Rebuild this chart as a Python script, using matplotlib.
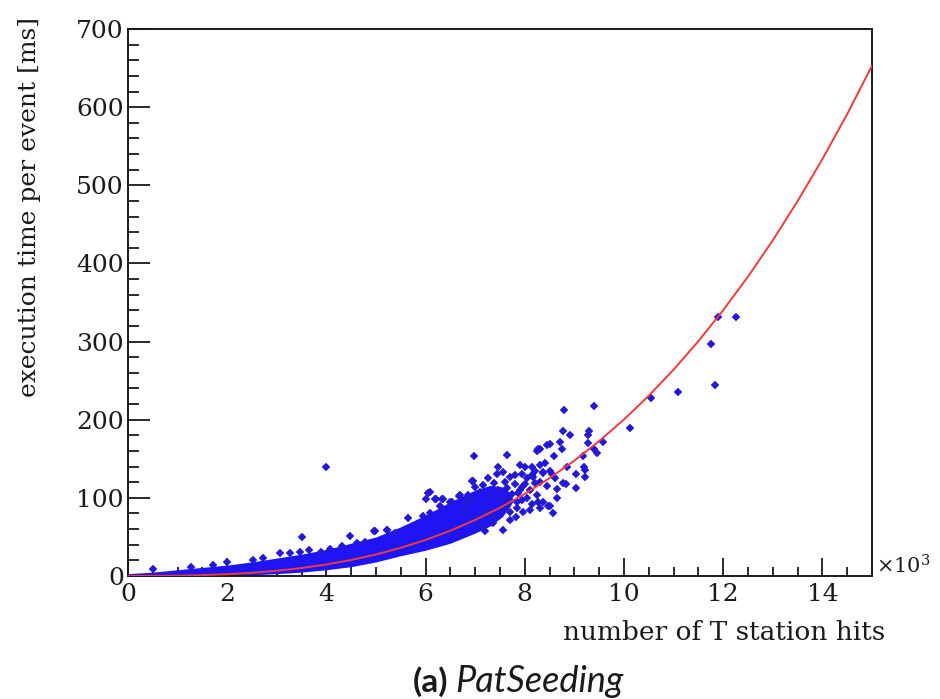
import matplotlib
matplotlib.use("Agg")
import matplotlib.pyplot as plt
from matplotlib.ticker import MultipleLocator

# ---------------- data (x in thousands of hits, y in ms) ----------------
# dense core of the scatter (outer envelope of the solid blue region)
band_x  = [0.0, 0.5, 1.0, 1.5, 2.0, 2.5, 3.0, 3.5, 4.0, 4.5, 5.0, 5.5, 6.0, 6.5, 7.0, 7.3, 7.55, 7.75]
band_hi = [3.0, 5.0, 8.0, 11.0, 14.0, 18.0, 23.0, 28.0, 34.0, 42.0, 50.0, 63.0, 78.0, 95.0, 110.0, 116.0, 114.0, 104.0]
band_lo = [0.0, 0.0, 0.0, 0.0, 0.5, 1.5, 3.0, 5.0, 8.0, 12.0, 18.0, 26.0, 33.0, 42.0, 55.0, 64.0, 76.0, 94.0]

# individual events visible outside the dense core
pts_x = [0.51, 1.28, 1.72, 1.99, 2.53, 2.73, 3.06, 3.27, 3.47, 3.64, 3.90, 4.07, 4.31,
         4.61, 4.78, 3.50, 4.48, 3.99, 4.95, 4.98, 5.22, 5.23, 5.38, 5.65, 5.95, 6.09,
         6.01, 6.05, 6.19, 6.21, 6.34, 6.36, 6.49, 6.53, 6.29, 6.68, 6.69, 6.83, 6.86,
         6.93, 7.00, 6.76, 7.10, 6.08, 6.96, 6.98, 7.16, 7.37, 7.64, 7.94, 8.10, 8.24,
         8.37, 8.47, 8.10, 7.84, 7.70, 7.37, 7.57, 7.10, 6.96, 6.79, 7.30, 7.50, 7.94,
         7.87, 7.70, 7.43, 8.21, 8.31, 8.14, 7.97, 7.64, 8.27, 8.45, 7.57, 7.90, 7.80,
         8.04, 8.14, 8.37, 8.00, 8.17, 8.36, 8.41, 8.51, 8.59, 8.61, 8.76, 8.70, 8.51,
         8.31, 8.25, 8.57, 8.31, 8.51, 8.64, 8.84, 8.85, 8.27, 8.78, 8.80, 8.78, 8.91,
         9.39, 9.29, 9.27, 9.58, 9.27, 9.40, 9.45, 9.18, 9.19, 9.04, 9.22, 9.04, 9.21,
         10.12, 10.54, 11.09, 11.83, 11.75, 11.89, 12.26,
         7.20, 7.30, 7.45, 7.55, 7.65, 7.75, 7.80, 7.85, 7.95, 8.05, 8.15, 8.20, 8.30,
         8.45, 8.55, 8.65, 7.25, 7.45, 7.60, 7.55, 7.35, 7.20, 7.90, 8.00, 7.70, 7.82]
pts_y = [8.5, 11, 14, 18, 20, 23, 29, 30, 31, 33, 31, 35, 38,
         42, 44, 50, 51, 140, 57, 58, 59, 59, 55, 74, 77, 80,
         98, 106, 98, 99, 98, 98, 95, 95, 89, 102, 104, 99, 104,
         121, 114, 82, 108, 107, 121, 154, 116, 119, 155, 114, 110, 104,
         95, 89, 84, 87, 72, 76, 59, 63, 97, 89, 101, 97, 97,
         106, 127, 131, 119, 142, 140, 82, 112, 162, 168, 133, 142, 129,
         125, 129, 133, 139, 127, 132, 144, 135, 153, 126, 163, 171, 169,
         163, 160, 81, 87, 89, 111, 118, 140, 95, 119, 212, 186, 180,
         217, 186, 180, 171, 170, 163, 158, 154, 139, 130, 127, 112, 136,
         190, 228, 236, 245, 297, 331, 331,
         90, 80, 110, 100, 90, 105, 118, 95, 130, 100, 92, 135, 120,
         115, 130, 100, 125, 140, 120, 85, 68, 57, 110, 118, 82, 75]

# fitted curve
fit_x = [0.0, 0.5, 1.0, 1.5, 2.0, 2.5, 3.0, 3.5, 4.0, 4.5, 5.0, 5.5, 6.0, 6.5, 7.0, 7.5,
         8.0, 8.5, 9.0, 9.5, 10.0, 10.5, 11.0, 11.5, 12.0, 12.5, 13.0, 13.5, 14.0, 14.5, 15.0]
fit_y = [0.0, 0.1, 0.4, 1.1, 2.3, 4.1, 6.7, 10.2, 14.8, 20.5, 27.6, 36.1, 46.2, 58.0, 71.7, 87.4,
         105.2, 125.2, 147.7, 172.7, 200.3, 230.7, 264.1, 300.5, 340.2, 383.1, 429.6, 479.7, 533.5, 591.1, 653.0]

x_ticks = [0, 2, 4, 6, 8, 10, 12, 14]
y_ticks = [0, 100, 200, 300, 400, 500, 600, 700]

x_label = "number of T station hits"
y_label = "execution time per event [ms]"

# ---------------- figure ----------------
plt.rcParams['mathtext.fontset'] = 'dejavuserif'
serif = 'DejaVu Serif'
ink = '#1a1a1a'

fig = plt.figure(figsize=(9.4, 6.99), dpi=100)
ax = fig.add_axes([128/940, 1 - 576/699, (872-128)/940, (576-29)/699])

ax.fill_between(band_x, band_lo, band_hi, color='#1e14f5', linewidth=0, zorder=2)
ax.plot(pts_x, pts_y, linestyle='none', marker='D', markersize=3.8,
        markerfacecolor='#2418d8', markeredgecolor='#2418d8', markeredgewidth=0.3, zorder=3)
ax.plot(fit_x, fit_y, color='#f03a3a', linewidth=1.4, zorder=4)

ax.set_xlim(0, 15)
ax.set_ylim(0, 700)
ax.xaxis.set_minor_locator(MultipleLocator(0.5))
ax.yaxis.set_minor_locator(MultipleLocator(20))
ax.set_xticks(x_ticks)
ax.set_yticks(y_ticks)
ax.set_xticklabels([str(v) for v in x_ticks], fontfamily=serif, fontsize=18)
ax.set_yticklabels([str(v) for v in y_ticks], fontfamily=serif, fontsize=18)

ax.tick_params(axis='x', which='major', direction='in', length=13, width=1.3, pad=5,
               top=False, colors=ink, labelcolor=ink)
ax.tick_params(axis='x', which='minor', direction='in', length=6.5, width=1.3, top=False, colors=ink)
ax.tick_params(axis='y', which='major', direction='in', length=16, width=1.3, pad=3,
               right=False, colors=ink, labelcolor=ink)
ax.tick_params(axis='y', which='minor', direction='in', length=8, width=1.3, right=False, colors=ink)
for s in ax.spines.values():
    s.set_linewidth(1.4)
    s.set_color(ink)

fig.text(885/940, 1 - 633/699, x_label, ha='right', va='center',
         fontfamily=serif, fontsize=19, color=ink)
fig.text(30/940, 1 - 17/699, y_label, ha='center', va='top', rotation=90,
         fontfamily=serif, fontsize=18, color=ink)
fig.text(876/940, 1 - 566/699, r'$\times10^{3}$', ha='left', va='center',
         fontsize=15, color=ink)

fig.text(448/940, 1 - 692/699, '(a)', ha='right', va='baseline', fontfamily='Lato',
         fontweight='bold', fontsize=24, color=ink)
fig.text(455/940, 1 - 692/699, 'PatSeeding', ha='left', va='baseline', fontfamily='Lato',
         fontstyle='italic', fontsize=26, color=ink)

fig.savefig('out.png', dpi=100)
